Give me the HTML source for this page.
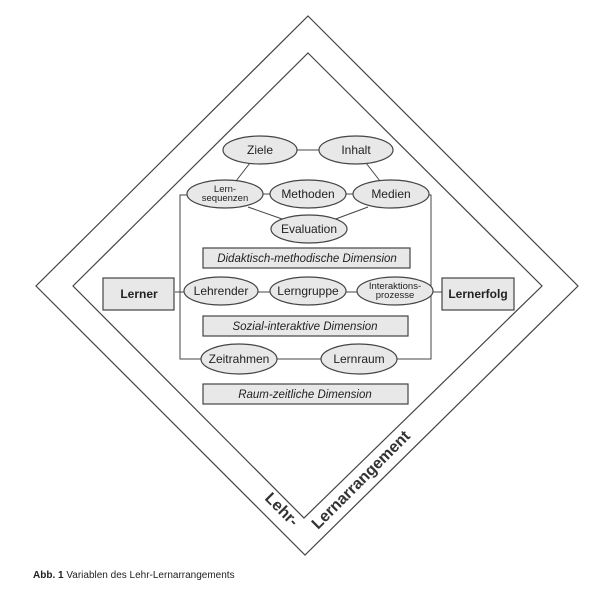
<!DOCTYPE html>
<html><head><meta charset="utf-8"><style>
html,body{margin:0;padding:0;background:#fff;}
svg{display:block;font-family:"Liberation Sans",sans-serif;}
</style></head><body>
<svg width="605" height="593" viewBox="0 0 605 593" xmlns="http://www.w3.org/2000/svg">
<g fill="none" stroke="#444" stroke-width="1.2">
<polygon points="308,16 578,286 305,555 36,286"/>
<polygon points="308,53 542,286 304,518 73,286"/>
</g>
<g stroke="#444" stroke-width="1" fill="none">
<line x1="297" y1="150" x2="319" y2="150"/>
<line x1="250" y1="163" x2="236" y2="181"/>
<line x1="366" y1="163" x2="380" y2="181"/>
<line x1="263" y1="194" x2="271" y2="194"/>
<line x1="346" y1="194" x2="354" y2="194"/>
<line x1="248" y1="207" x2="285" y2="220"/>
<line x1="368" y1="207" x2="333" y2="220"/>
<polyline points="187,195 180,195 180,359 202,359"/>
<polyline points="429,195 431,195 431,359 397,359"/>
<line x1="276" y1="359" x2="323" y2="359"/>
<line x1="175" y1="292" x2="184" y2="292"/>
<line x1="258" y1="292" x2="271" y2="292"/>
<line x1="346" y1="292" x2="357" y2="292"/>
<line x1="433" y1="292" x2="442" y2="292"/>
</g>
<g fill="#e8e8e8" stroke="#444" stroke-width="1.2">
<ellipse cx="260" cy="150" rx="37" ry="14"/>
<ellipse cx="356" cy="150" rx="37" ry="14"/>
<ellipse cx="225" cy="194" rx="38" ry="14"/>
<ellipse cx="308" cy="194" rx="38" ry="14"/>
<ellipse cx="391" cy="194" rx="38" ry="14"/>
<ellipse cx="309" cy="229" rx="38" ry="14"/>
<ellipse cx="221" cy="291" rx="37" ry="14"/>
<ellipse cx="308" cy="291" rx="38" ry="14"/>
<ellipse cx="395" cy="291" rx="38" ry="14"/>
<ellipse cx="239" cy="359" rx="38" ry="15"/>
<ellipse cx="359" cy="359" rx="38" ry="15"/>
<rect x="203" y="248" width="207" height="20"/>
<rect x="203" y="316" width="205" height="20"/>
<rect x="203" y="384" width="205" height="20"/>
<rect x="103" y="278" width="71" height="32"/>
<rect x="442" y="278" width="72" height="32"/>
</g>
<g fill="#222" font-size="12" text-anchor="middle">
<text x="260" y="154">Ziele</text>
<text x="356" y="154">Inhalt</text>
<text x="225" y="192" font-size="9.5">Lern-</text>
<text x="225" y="201" font-size="9.5">sequenzen</text>
<text x="308" y="198">Methoden</text>
<text x="391" y="198">Medien</text>
<text x="309" y="233">Evaluation</text>
<text x="221" y="295">Lehrender</text>
<text x="308" y="295">Lerngruppe</text>
<text x="395" y="289" font-size="9.5">Interaktions-</text>
<text x="395" y="298" font-size="9.5">prozesse</text>
<text x="239" y="363">Zeitrahmen</text>
<text x="359" y="363">Lernraum</text>
<text x="307" y="262" font-style="italic" font-size="11.5">Didaktisch-methodische Dimension</text>
<text x="305" y="330" font-style="italic" font-size="11.5">Sozial-interaktive Dimension</text>
<text x="305" y="398" font-style="italic" font-size="11.5">Raum-zeitliche Dimension</text>
<text x="139" y="298" font-weight="bold">Lerner</text>
<text x="478" y="298" font-weight="bold">Lernerfolg</text>
</g>
<g fill="#333" font-size="16" font-weight="bold">
<text transform="translate(264,499) rotate(45)">Lehr-</text>
<text transform="translate(318,530) rotate(-45)">Lernarrangement</text>
</g>
<text x="33" y="578" font-size="10" fill="#222"><tspan font-weight="bold">Abb. 1</tspan> Variablen des Lehr-Lernarrangements</text>
</svg>
</body></html>
